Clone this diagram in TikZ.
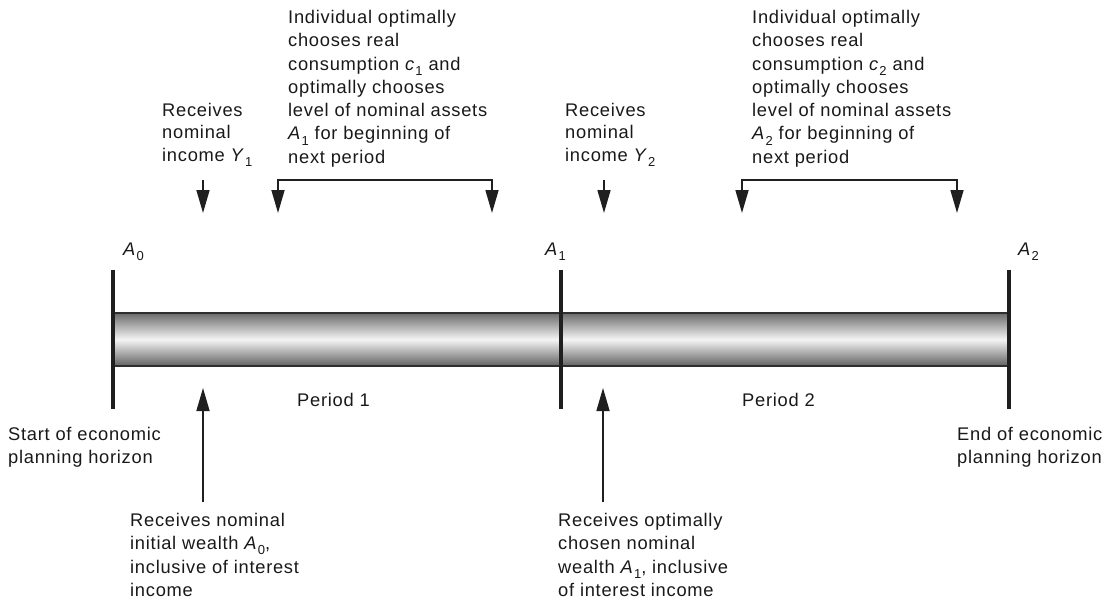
\documentclass[tikz,border=0pt]{standalone}
\usepackage{fontspec}
\setmainfont{Liberation Sans}[LetterSpace=4]
\usetikzlibrary{arrows.meta}
\newcommand\vsub[2]{\textit{#1}\kern0.5pt\raisebox{-0.28em}{\fontsize{13}{13}\selectfont #2}}
\begin{document}
\begin{tikzpicture}[x=1pt,y=-1pt,
  txt/.style={anchor=north west,inner sep=0pt,align=left,font=\fontsize{18.3}{23.3}\selectfont,text=black!90},
  lbl/.style={anchor=north west,inner sep=0pt,font=\fontsize{18.3}{22}\selectfont,text=black!90},
  post/.style={line width=4pt,draw=black!88},
  arr/.style={line width=1.6pt,draw=black!88,-{Triangle[length=23pt,width=13pt]}},
  brk/.style={line width=1.6pt,draw=black!88,{Triangle[length=23pt,width=13pt]}-{Triangle[length=23pt,width=13pt]}}]
\useasboundingbox (0,0) rectangle (1113,602);
% bar
\shade[top color=black!58,bottom color=black!62,middle color=white!96!black] (113,313) rectangle (1009,366);
\draw[line width=2pt,black!82] (113,313) -- (1009,313) (113,366) -- (1009,366);
% posts
\coordinate (p0t) at (113,270); \coordinate (p0b) at (113,409);
\coordinate (p1t) at (561,270); \coordinate (p1b) at (561,409);
\coordinate (p2t) at (1009,270); \coordinate (p2b) at (1009,409);
\draw[post] (p0t) -- (p0b);
\draw[post] (p1t) -- (p1b);
\draw[post] (p2t) -- (p2b);
% labels at posts
\node[lbl] (a0) at (123,243) {\vsub{A}{0}};
\node[lbl] (a1) at (545,243) {\vsub{A}{1}};
\node[lbl] (a2) at (1018,243) {\vsub{A}{2}};
% top texts
\node[txt] (top1) at (288,10) {Individual optimally\\chooses real\\consumption \vsub{c}{1} and\\optimally chooses\\level of nominal assets\\\vsub{A}{1} for beginning of\\next period};
\node[txt] (top2) at (752,10) {Individual optimally\\chooses real\\consumption \vsub{c}{2} and\\optimally chooses\\level of nominal assets\\\vsub{A}{2} for beginning of\\next period};
\node[txt,font=\fontsize{18.3}{22.5}\selectfont] (rec1) at (162,103) {Receives\\nominal\\income \vsub{Y}{1}};
\node[txt,font=\fontsize{18.3}{22.5}\selectfont] (rec2) at (565,103) {Receives\\nominal\\income \vsub{Y}{2}};
% period labels
\node[lbl] (per1) at (297,393) {Period 1};
\node[lbl] (per2) at (742,393) {Period 2};
% bottom texts
\node[txt] (start) at (8,427) {Start of economic\\planning horizon};
\node[txt] (end) at (957,427) {End of economic\\planning horizon};
\node[txt] (bot1) at (130,513) {Receives nominal\\initial wealth \vsub{A}{0},\\inclusive of interest\\income};
\node[txt] (bot2) at (558,513) {Receives optimally\\chosen nominal\\wealth \vsub{A}{1}, inclusive\\of interest income};
% down arrows
\coordinate (r1s) at (203,180); \coordinate (r1e) at (203,213);
\coordinate (r2s) at (604,180); \coordinate (r2e) at (604,213);
\draw[arr] (r1s) -- (r1e);
\draw[arr] (r2s) -- (r2e);
% brackets
\coordinate (b1l) at (278,213); \coordinate (b1r) at (492,213);
\coordinate (b2l) at (742,213); \coordinate (b2r) at (957,213);
\draw[brk] (b1l) -- (278,180) -- (492,180) -- (b1r);
\draw[brk] (b2l) -- (742,180) -- (957,180) -- (b2r);
% up arrows
\coordinate (u1s) at (203,502); \coordinate (u1e) at (203,388);
\coordinate (u2s) at (603,502); \coordinate (u2e) at (603,388);
\draw[arr] (u1s) -- (u1e);
\draw[arr] (u2s) -- (u2e);
\end{tikzpicture}
\end{document}
